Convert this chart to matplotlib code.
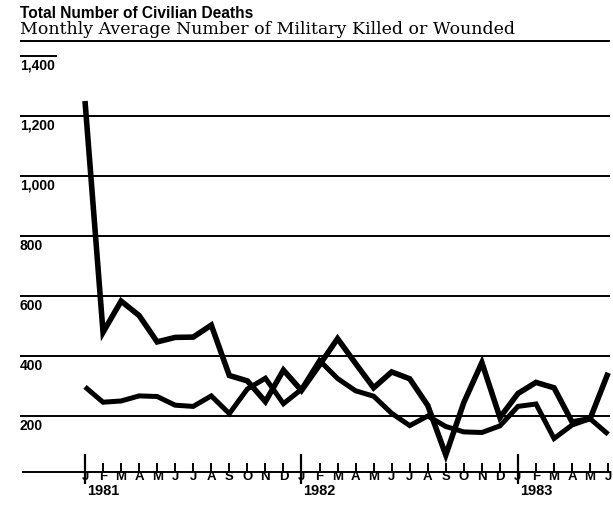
import matplotlib
matplotlib.use("Agg")
import matplotlib.pyplot as plt
import matplotlib.transforms as mtransforms
import numpy as np

# months Jan 1981 .. Jun 1983
month_letters = list("JFMAMJJASOND") * 2 + list("JFMAMJ")
years = ["1981", "1982", "1983"]
year_start_idx = [0, 12, 24]

# civilian deaths (heavy line, starts high)
civilian = [1250, 479, 583, 535, 447, 462, 463, 503, 335, 317, 248, 353,
            285, 370, 458, 375, 294, 347, 324, 235, 70, 245, 378, 195,
            275, 312, 294, 180, 191, 344]
# monthly avg military killed or wounded
military = [297, 246, 250, 267, 265, 236, 232, 267, 208, 290, 326, 241,
            289, 385, 325, 284, 266, 209, 168, 200, 165, 147, 145, 167,
            232, 240, 125, 170, 191, 139]

grid_vals = [200, 400, 600, 800, 1000, 1200]
ylabels = ["200", "400", "600", "800", "1,000", "1,200", "1,400"]
ylabel_vals = [200, 400, 600, 800, 1000, 1200, 1400]

W, H = 613, 508
fig = plt.figure(figsize=(W / 100, H / 100), dpi=100)
ax = fig.add_axes([0, 0, 1, 1])
ax.set_axis_off()

# pixel mapping: month i -> x = 85 + 18.04*i ; value 200 -> y 416 px from top, 0.3 px per unit
dx = 18.04
ax.set_xlim(-85 / dx, (W - 85) / dx)
ax.set_ylim(200 - (H - 416) / 0.3, 200 + 416 / 0.3)

x = np.arange(len(month_letters))
left_x = (20 - 85) / dx
right_x = (610 - 85) / dx
narrow = ["Liberation Sans Narrow", "Liberation Sans", "DejaVu Sans"]

# gridlines
ax.hlines(grid_vals, left_x, right_x, color="black", lw=1.4)
ax.hlines([1400], left_x, (57 - 85) / dx, color="black", lw=1.4)
ax.hlines([1450], left_x, right_x, color="black", lw=1.4)

# y labels below their lines
blend = mtransforms.blended_transform_factory(fig.transFigure, ax.transData)
for v, lab in zip(ylabel_vals, ylabels):
    ax.text(20 / W, v - 10, lab, transform=blend, ha="left", va="top",
            fontsize=10, fontweight="bold", family=narrow)

# data lines
ax.plot(x, civilian, color="black", lw=4.0, solid_joinstyle="miter", solid_capstyle="butt")
ax.plot(x, military, color="black", lw=3.6, solid_joinstyle="miter", solid_capstyle="butt")

# x axis
axis_v = 12
ax.hlines([axis_v], (22 - 85) / dx, right_x, color="black", lw=1.4)
ax.vlines(x, axis_v, axis_v + 30, color="black", lw=1.4)
ax.vlines(year_start_idx, axis_v - 40, axis_v + 60, color="black", lw=1.6)
for i, m in zip(x, month_letters):
    ax.text(i, axis_v + 3, m, ha="center", va="top", fontsize=9.5, fontweight="bold",
            family=narrow)
for i, yr in zip(year_start_idx, years):
    ax.text(i + 0.1, axis_v - 40, yr, ha="left", va="top", fontsize=10.5, fontweight="bold",
            family=narrow)

# titles
fig.text(20 / W, 1 - 6 / H, "Total Number of Civilian Deaths", ha="left", va="top",
         fontsize=11.2, fontweight="bold", family=["Liberation Sans", "DejaVu Sans"])
fig.text(20 / W, 1 - 21 / H, "Monthly Average Number of Military Killed or Wounded",
         ha="left", va="top", fontsize=12.5, family=["DejaVu Serif"])

fig.savefig("out.png", dpi=100)
